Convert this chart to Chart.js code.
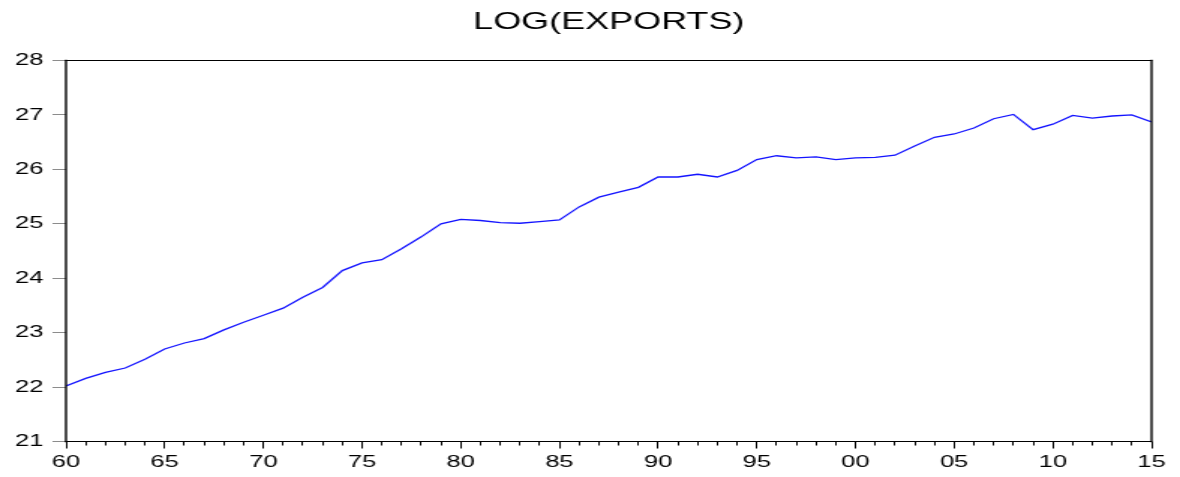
<!DOCTYPE html>
<html>
<head>
<meta charset="utf-8">
<script src="https://cdn.jsdelivr.net/npm/chart.js@4.4.1/dist/chart.umd.min.js"></script>
<style>
  html, body { margin: 0; padding: 0; background: #fff; overflow: hidden; }
  #wrap { position: absolute; left: 0; top: 0; width: 787px; height: 477px;
          transform: scaleX(1.4994); transform-origin: 0 0; }
</style>
</head>
<body>
<div id="wrap"><canvas id="c"></canvas></div>
<script>
const titleText = "LOG(EXPORTS)";
const years = [1960,1961,1962,1963,1964,1965,1966,1967,1968,1969,
               1970,1971,1972,1973,1974,1975,1976,1977,1978,1979,
               1980,1981,1982,1983,1984,1985,1986,1987,1988,1989,
               1990,1991,1992,1993,1994,1995,1996,1997,1998,1999,
               2000,2001,2002,2003,2004,2005,2006,2007,2008,2009,
               2010,2011,2012,2013,2014,2015];
const logExports = [22.02,22.16,22.27,22.35,22.51,22.70,22.81,22.89,23.05,23.19,
                    23.32,23.45,23.65,23.83,24.14,24.28,24.34,24.54,24.76,25.00,
                    25.08,25.06,25.02,25.01,25.04,25.07,25.31,25.49,25.58,25.67,
                    25.86,25.86,25.91,25.86,25.98,26.18,26.25,26.21,26.23,26.18,
                    26.21,26.22,26.26,26.43,26.59,26.65,26.76,26.93,27.01,26.73,
                    26.83,26.99,26.94,26.98,27.00,26.87];
const yMin = 21, yMax = 28, yStep = 1;
const xMin = 1960, xMax = 2015, xMajorStep = 5, xMinorStep = 1;

const FONT = '"Liberation Sans", Arial, Helvetica, sans-serif';

const framePlugin = {
  id: 'frame',
  afterDatasetsDraw(chart) {
    const {ctx, chartArea: a} = chart;
    ctx.save();
    ctx.strokeStyle = '#000';
    ctx.lineCap = 'square';
    ctx.lineWidth = 1;
    ctx.beginPath();
    ctx.moveTo(a.left, a.top); ctx.lineTo(a.right, a.top);
    ctx.moveTo(a.left, a.bottom); ctx.lineTo(a.right, a.bottom);
    ctx.stroke();
    ctx.lineWidth = 1.4;
    ctx.beginPath();
    ctx.moveTo(a.left, a.top); ctx.lineTo(a.left, a.bottom);
    ctx.moveTo(a.right, a.top); ctx.lineTo(a.right, a.bottom);
    ctx.stroke();
    ctx.restore();
  }
};

new Chart(document.getElementById('c'), {
  type: 'line',
  data: {
    datasets: [{
      data: years.map((y, i) => ({x: y, y: logExports[i]})),
      borderColor: '#1414ff',
      borderWidth: 1.3,
      pointRadius: 0,
      tension: 0,
      fill: false,
      xAxisID: 'x',
      yAxisID: 'y'
    }]
  },
  options: {
    responsive: true,
    maintainAspectRatio: false,
    animation: false,
    devicePixelRatio: 1,
    layout: { padding: { left: 0, right: 19, top: 0, bottom: 0 } },
    plugins: {
      legend: { display: false },
      tooltip: { enabled: false },
      title: {
        display: true,
        text: titleText,
        fullSize: false,
        color: '#000',
        font: { family: FONT, size: 24, weight: 'normal' },
        padding: { top: 8, bottom: 23.7 }
      }
    },
    scales: {
      x: {
        type: 'linear',
        position: 'bottom',
        min: xMin, max: xMax,
        weight: 0,
        afterFit(s) { s.height = 0; },
        border: { display: false },
        grid: { drawOnChartArea: false, drawTicks: true, tickLength: 4, color: '#000', tickWidth: 1 },
        ticks: { display: false, stepSize: xMinorStep, autoSkip: false }
      },
      xMajor: {
        type: 'linear',
        position: 'bottom',
        min: xMin, max: xMax,
        weight: 1,
        afterFit(s) { s.height = 35.5; },
        border: { display: false },
        grid: { drawOnChartArea: false, drawTicks: true, tickLength: 7, color: '#000', tickWidth: 1 },
        ticks: {
          stepSize: xMajorStep, autoSkip: false, maxRotation: 0, padding: 4,
          color: '#000', font: { family: FONT, size: 17 },
          callback: v => String(v % 100).padStart(2, '0')
        }
      },
      y: {
        position: 'left',
        min: yMin, max: yMax,
        afterFit(s) { s.width = 44; },
        border: { display: false },
        grid: { drawOnChartArea: false, drawTicks: true, tickLength: 9, color: '#8c8c8c', tickWidth: 1 },
        ticks: {
          stepSize: yStep, padding: 6, color: '#000',
          font: { family: FONT, size: 17 }
        }
      }
    }
  },
  plugins: [framePlugin]
});
</script>
</body>
</html>
